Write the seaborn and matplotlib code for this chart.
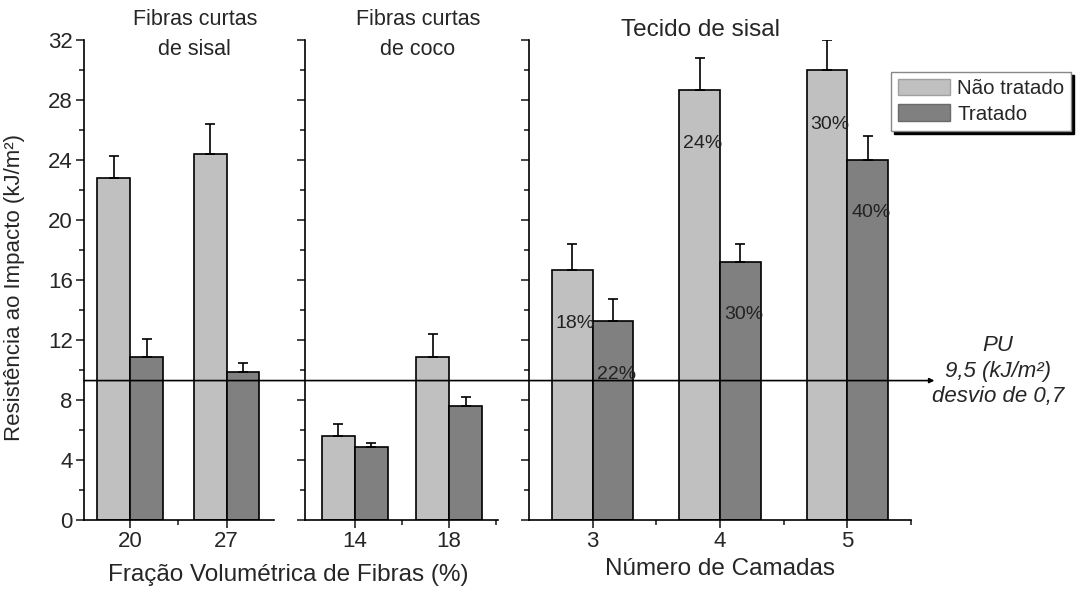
import numpy as np
import pandas as pd
import matplotlib.pyplot as plt
import seaborn as sns
from matplotlib.patches import Patch
from matplotlib.ticker import MultipleLocator, FixedLocator

# ─── data ───
TREATMENTS = ['Não tratado', 'Tratado']

# short sisal fibres (volume fraction %)
sisal_frac = ['20', '27']
sisal_untreated = [22.8, 24.4]
sisal_untreated_err = [1.5, 2.0]
sisal_treated = [10.9, 9.9]
sisal_treated_err = [1.2, 0.55]

# short coconut fibres (volume fraction %)
coco_frac = ['14', '18']
coco_untreated = [5.6, 10.9]
coco_untreated_err = [0.8, 1.5]
coco_treated = [4.9, 7.6]
coco_treated_err = [0.25, 0.6]

# sisal fabric (number of layers)
layers = ['3', '4', '5']
fabric_untreated = [16.7, 28.7, 30.0]
fabric_untreated_err = [1.7, 2.1, 2.0]
fabric_treated = [13.3, 17.2, 24.0]
fabric_treated_err = [1.45, 1.2, 1.6]
fabric_untreated_pct = ['18%', '24%', '30%']
fabric_treated_pct = ['22%', '30%', '40%']

# PU reference line
PU_MEAN = 9.3

# ─── style ───
LIGHT = '#c0c0c0'
DARK = '#808080'
sns.set_style('ticks')
plt.rcParams['font.family'] = ['Liberation Sans', 'DejaVu Sans']


def long_df(cats, untreated, treated):
    return pd.DataFrame({
        'cat': cats * 2,
        'val': untreated + treated,
        'trat': [TREATMENTS[0]] * len(cats) + [TREATMENTS[1]] * len(cats),
    })


def panel(ax, cats, untreated, u_err, treated, t_err, width, xlim):
    df = long_df(cats, untreated, treated)
    sns.barplot(data=df, x='cat', y='val', hue='trat', hue_order=TREATMENTS,
                palette=[LIGHT, DARK], edgecolor='black', linewidth=1.2,
                width=width, gap=0, errorbar=None, legend=False, ax=ax)
    for cont, errs in zip(ax.containers, [u_err, t_err]):
        for bar, e in zip(cont, errs):
            x = bar.get_x() + bar.get_width() / 2
            ax.errorbar(x, bar.get_height(), yerr=[[0], [e]], fmt='none',
                        ecolor='black', elinewidth=1.2, capsize=3.5, capthick=1.2)
    ax.set_xlim(*xlim)
    ax.set_ylim(0, 32)
    ax.yaxis.set_major_locator(MultipleLocator(4))
    ax.yaxis.set_minor_locator(MultipleLocator(2))
    ax.xaxis.set_minor_locator(FixedLocator(np.arange(len(cats)) + 0.5))
    ax.tick_params(which='major', length=6, width=1.2, labelsize=16, direction='out', pad=2)
    ax.tick_params(which='minor', length=3.5, width=1.2, direction='out')
    ax.set_xlabel('')
    ax.set_ylabel('')
    for s in ['left', 'bottom']:
        ax.spines[s].set_linewidth(1.2)
        ax.spines[s].set_color('black')
    sns.despine(ax=ax)


fig = plt.figure(figsize=(10.79, 5.89), dpi=100)
ax1 = fig.add_axes([0.0778, 0.117, 0.1761, 0.815])
ax2 = fig.add_axes([0.2827, 0.117, 0.1789, 0.815])
ax3 = fig.add_axes([0.4903, 0.117, 0.3540, 0.815])

panel(ax1, sisal_frac, sisal_untreated, sisal_untreated_err,
      sisal_treated, sisal_treated_err, 0.68, (-0.48, 1.49))
panel(ax2, coco_frac, coco_untreated, coco_untreated_err,
      coco_treated, coco_treated_err, 0.70, (-0.53, 1.52))
panel(ax3, layers, fabric_untreated, fabric_untreated_err,
      fabric_treated, fabric_treated_err, 0.64, (-0.5, 2.5))
ax2.tick_params(labelleft=False)
ax3.tick_params(labelleft=False)

ax1.set_ylabel('Resistência ao Impacto (kJ/m²)', fontsize=16)
ax1.yaxis.set_label_coords(-0.31, 0.485)
ax3.set_xlabel('Número de Camadas', fontsize=17.5, labelpad=4)
p1, p2 = ax1.get_position(), ax2.get_position()
fig.text((p1.x0 + p2.x1) / 2 - 0.003, 0.024, 'Fração Volumétrica de Fibras (%)',
         fontsize=17.5, ha='center', va='center')

# panel titles
ax1.text(0.584, 1.012, 'Fibras curtas\nde sisal', transform=ax1.transAxes,
         ha='center', va='center', fontsize=15.5, linespacing=1.55)
ax2.text(0.585, 1.012, 'Fibras curtas\nde coco', transform=ax2.transAxes,
         ha='center', va='center', fontsize=15.5, linespacing=1.55)
ax3.text(0.45, 1.02, 'Tecido de sisal', transform=ax3.transAxes,
         ha='center', va='center', fontsize=17.5)

# percentage labels on fabric bars
pct_y = [[13.1, 25.1, 26.4], [9.7, 13.7, 20.5]]
for cont, labels, ys in zip(ax3.containers, [fabric_untreated_pct, fabric_treated_pct], pct_y):
    for bar, lab, y in zip(cont, labels, ys):
        ax3.text(bar.get_x() + bar.get_width() / 2 + 0.025, y, lab,
                 ha='center', va='center', fontsize=14, color='#222222')

# PU line across all panels
ax3.annotate('', xy=(0.866, PU_MEAN), xycoords=('figure fraction', 'data'),
             xytext=(p1.x0, PU_MEAN), textcoords=('figure fraction', 'data'),
             arrowprops=dict(arrowstyle='-|>', lw=1.2, color='black',
                             mutation_scale=7, shrinkA=0, shrinkB=0),
             annotation_clip=False)
fig.text(0.925, 0.37, 'PU\n9,5 (kJ/m²)\ndesvio de 0,7', fontsize=16,
         style='italic', ha='center', va='center', linespacing=1.3)

# legend
handles = [Patch(facecolor=LIGHT, edgecolor='#a0a0a0', lw=1),
           Patch(facecolor=DARK, edgecolor='#6a6a6a', lw=1)]
leg = fig.legend(handles, TREATMENTS, loc='upper left', bbox_to_anchor=(0.826, 0.878),
                 fontsize=14.8, frameon=True, fancybox=False, shadow={'color': 'black', 'alpha': 1},
                 handlelength=2.5, handleheight=0.83, labelspacing=0.3,
                 borderpad=0.35, handletextpad=0.35, borderaxespad=0)
leg.get_frame().set_edgecolor('#888888')
leg.get_frame().set_linewidth(1)
leg.get_frame().set_alpha(1)

fig.savefig('out.png', dpi=100)
